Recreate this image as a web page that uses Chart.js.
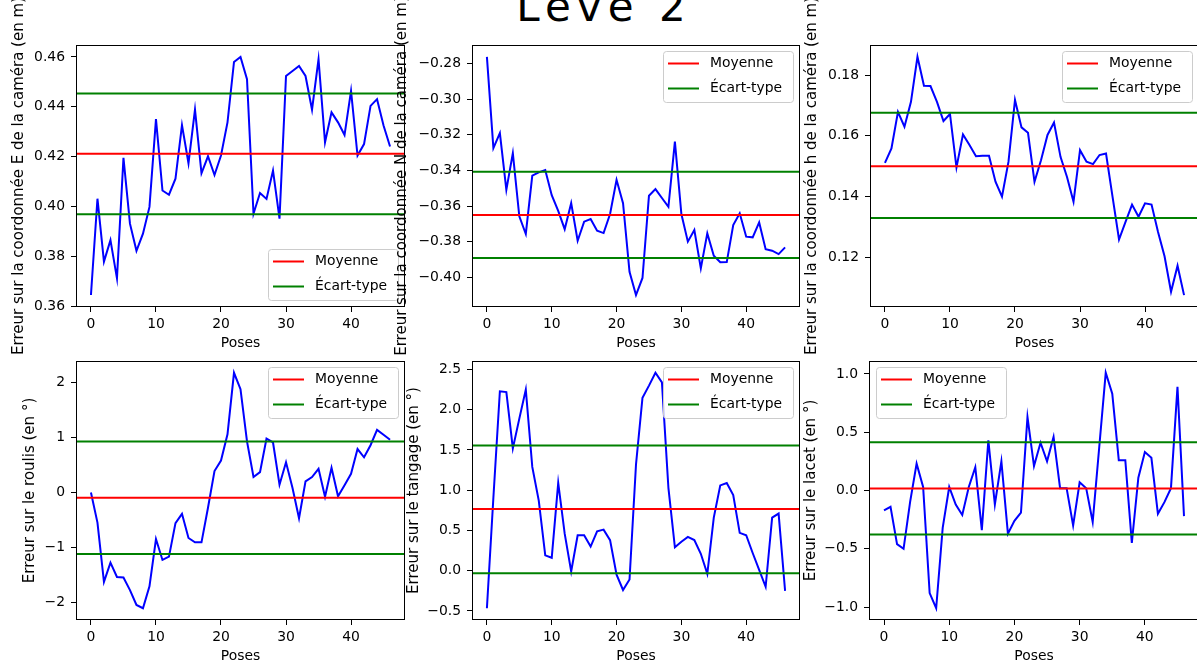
<!DOCTYPE html>
<html>
<head>
<meta charset="utf-8">
<script src="https://cdn.jsdelivr.net/npm/chart.js@4.4.1/dist/chart.umd.min.js"></script>
<style>
  html, body { margin: 0; padding: 0; background: #fff; overflow: hidden; }
  #figure { position: relative; width: 1197px; height: 668px; overflow: hidden; background: #fff; }
  #figure canvas { position: absolute; }
  #titre {
    position: absolute; left: 454px; top: -14px; width: 300px;
    text-align: center; font-family: 'DejaVu Sans', sans-serif;
    font-size: 42px; line-height: 42px; letter-spacing: 6px; color: #000;
  }
</style>
</head>
<body>
<div id="figure">
  <div id="titre">Levé 2</div>
  <canvas id="pE"></canvas>
  <canvas id="pN"></canvas>
  <canvas id="pH"></canvas>
  <canvas id="pRoulis"></canvas>
  <canvas id="pTangage"></canvas>
  <canvas id="pLacet"></canvas>
</div>
<script>
// Poses (abscisses) et graduations communes
const poses = [0, 1, 2, 3, 4, 5, 6, 7, 8, 9, 10, 11, 12, 13, 14, 15, 16, 17, 18, 19, 20, 21, 22, 23,
  24, 25, 26, 27, 28, 29, 30, 31, 32, 33, 34, 35, 36, 37, 38, 39, 40, 41, 42, 43, 44, 45, 46];
const ticksX = [0, 10, 20, 30, 40];
const limitesX = [-2.3, 48.3];

// Erreur sur E (m)
const erreurE = [0.3646, 0.4032, 0.378, 0.3866, 0.3713, 0.4196, 0.3932, 0.3823, 0.3892, 0.3999,
  0.4351, 0.4065, 0.4048, 0.4112, 0.4327, 0.4174, 0.4389, 0.4134, 0.4202, 0.4127,
  0.4205, 0.4338, 0.458, 0.46, 0.4511, 0.3972, 0.4055, 0.4031, 0.4145, 0.3952,
  0.4524, 0.4544, 0.4564, 0.4524, 0.4389, 0.4591, 0.4258, 0.4378, 0.4338, 0.4287,
  0.4464, 0.4205, 0.4251, 0.4404, 0.4431, 0.4325, 0.4241];
const moyenneE = 0.4212;
const ecartE = [0.4454, 0.3970];
const ticksE = [0.36, 0.38, 0.40, 0.42, 0.44, 0.46];
const limitesE = [0.3598, 0.4648];

// Erreur sur N (m)
const erreurN = [-0.2763, -0.3275, -0.3191, -0.3509, -0.3303, -0.3658, -0.3757, -0.343, -0.3411, -0.3398,
  -0.3539, -0.3627, -0.373, -0.3584, -0.3795, -0.3688, -0.3673, -0.3739, -0.3752, -0.3645,
  -0.3453, -0.3584, -0.3969, -0.41, -0.4004, -0.3542, -0.3505, -0.3555, -0.3604, -0.3238,
  -0.3645, -0.38, -0.3735, -0.395, -0.3754, -0.3879, -0.3916, -0.3915, -0.3707, -0.3641,
  -0.3772, -0.3776, -0.3692, -0.3842, -0.3851, -0.387, -0.3832];
const moyenneN = -0.3651;
const ecartN = [-0.3408, -0.3892];
const ticksN = [-0.40, -0.38, -0.36, -0.34, -0.32, -0.30, -0.28];
const limitesN = [-0.4167, -0.2696];

// Erreur sur h (m)
const erreurH = [0.1511, 0.1559, 0.1679, 0.163, 0.1712, 0.186, 0.1765, 0.1764, 0.1712, 0.1649,
  0.1672, 0.1496, 0.1605, 0.157, 0.1533, 0.1535, 0.1535, 0.1449, 0.14, 0.1515,
  0.1718, 0.1628, 0.161, 0.1449, 0.152, 0.1603, 0.1644, 0.1531, 0.1465, 0.1383,
  0.1553, 0.1515, 0.1507, 0.1537, 0.1542, 0.14, 0.1259, 0.1317, 0.1374, 0.1334,
  0.1378, 0.1374, 0.1284, 0.1204, 0.1087, 0.1173, 0.1076];
const moyenneH = 0.1500;
const ecartH = [0.1676, 0.1330];
const ticksH = [0.12, 0.14, 0.16, 0.18];
const limitesH = [0.1037, 0.1899];

// Erreur sur le roulis (°)
const erreurRoulis = [0, -0.55, -1.63, -1.28, -1.54, -1.55, -1.78, -2.05, -2.11, -1.71,
  -0.85, -1.23, -1.17, -0.56, -0.39, -0.83, -0.91, -0.91, -0.28, 0.39,
  0.58, 1.06, 2.18, 1.88, 0.93, 0.28, 0.37, 0.98, 0.91, 0.14,
  0.55, 0.08, -0.47, 0.20, 0.28, 0.43, -0.08, 0.45, -0.07, 0.13,
  0.34, 0.79, 0.64, 0.86, 1.14, 1.05, 0.96];
const moyenneRoulis = -0.096;
const ecartRoulis = [0.928, -1.12];
const ticksRoulis = [-2, -1, 0, 1, 2];
const limitesRoulis = [-2.3245, 2.3945];

// Erreur sur le tangage (°)
const erreurTangage = [-0.467, 0.91, 2.23, 2.22, 1.52, 1.89, 2.25, 1.29, 0.87, 0.19,
  0.16, 1.09, 0.46, -0.01, 0.44, 0.44, 0.30, 0.49, 0.51, 0.38,
  -0.05, -0.24, -0.11, 1.32, 2.15, 2.30, 2.46, 2.34, 1.03, 0.29,
  0.36, 0.42, 0.38, 0.21, -0.04, 0.66, 1.06, 1.09, 0.94, 0.47,
  0.44, 0.22, 0.01, -0.20, 0.66, 0.71, -0.25];
const moyenneTangage = 0.766;
const ecartTangage = [1.557, -0.033];
const ticksTangage = [-0.5, 0.0, 0.5, 1.0, 1.5, 2.0, 2.5];
const limitesTangage = [-0.613, 2.606];

// Erreur sur le lacet (°)
const erreurLacet = [-0.17, -0.14, -0.46, -0.50, -0.10, 0.23, 0.03, -0.88, -1.01, -0.32,
  0.03, -0.12, -0.21, 0.03, 0.20, -0.34, 0.43, -0.12, 0.25, -0.37,
  -0.26, -0.19, 0.63, 0.21, 0.41, 0.25, 0.46, 0.02, 0.02, -0.30,
  0.07, 0.02, -0.27, 0.37, 1.01, 0.83, 0.26, 0.26, -0.45, 0.11,
  0.33, 0.28, -0.20, -0.10, 0.02, 0.89, -0.22];
const moyenneLacet = 0.018;
const ecartLacet = [0.414, -0.377];
const ticksLacet = [-1.0, -0.5, 0.0, 0.5, 1.0];
const limitesLacet = [-1.111, 1.111];

const BLEU = '#0000ff', ROUGE = '#ff0000', VERT = '#008000';
const POLICE = 'DejaVu Sans';
const TAILLE = 13.9;
const TAILLE_TITRE_Y = 15;

Chart.defaults.font.family = POLICE;
Chart.defaults.font.size = TAILLE;
Chart.defaults.color = '#000';

// cadre, titre vertical et légende façon matplotlib
const habillage = {
  id: 'habillage',
  afterDraw(chart, args, opts) {
    const ctx = chart.ctx;
    const a = chart.chartArea;
    ctx.save();
    ctx.strokeStyle = '#000';
    ctx.lineWidth = 1;
    ctx.strokeRect(a.left + 0.5, a.top + 0.5, a.width - 1, a.height - 1);

    // légende
    const w = 130, h = 51, m = 7;
    const x0 = opts.coin.indexOf('droite') >= 0 ? a.right - m - w : a.left + m;
    const y0 = opts.coin.indexOf('haut') >= 0 ? a.top + m - 1 : a.bottom - m - h;
    ctx.beginPath();
    ctx.roundRect(x0 + 0.5, y0 + 0.5, w, h, 3);
    ctx.fillStyle = 'rgba(255,255,255,0.8)';
    ctx.fill();
    ctx.strokeStyle = '#cccccc';
    ctx.stroke();
    const items = [['Moyenne', ROUGE], ['Écart-type', VERT]];
    ctx.font = TAILLE + 'px "' + POLICE + '"';
    ctx.textBaseline = 'middle';
    ctx.textAlign = 'left';
    items.forEach(function(it, i) {
      const yy = y0 + 12.5 + i * 25;
      ctx.beginPath();
      ctx.strokeStyle = it[1];
      ctx.lineWidth = 2;
      ctx.moveTo(x0 + 5, yy);
      ctx.lineTo(x0 + 36, yy);
      ctx.stroke();
      ctx.fillStyle = '#000';
      ctx.fillText(it[0], x0 + 47, yy);
    });

    // titre de l'axe Y (non compressé, peut déborder du cadre)
    ctx.translate(opts.xTitre, (a.top + a.bottom) / 2);
    ctx.rotate(-Math.PI / 2);
    ctx.font = TAILLE_TITRE_Y + 'px "' + POLICE + '"';
    ctx.textAlign = 'center';
    ctx.textBaseline = 'alphabetic';
    ctx.fillStyle = '#000';
    ctx.fillText(opts.titreY, 0, 0);
    ctx.restore();
  }
};

function fmt(dec) {
  return function(v) { return v.toFixed(dec).replace('-', '\u2212'); };
}

function tracerPanneau(id, zone, axes, serie, moyenne, ecart, ticksY, limitesY, dec, titreY, xTitre, coin) {
  const canvas = document.getElementById(id);
  canvas.width = zone.w;
  canvas.height = zone.h;
  canvas.style.left = zone.x + 'px';
  canvas.style.top = zone.y + 'px';

  const ligneH = function(y, couleur) {
    return {
      data: [{x: limitesX[0], y: y}, {x: limitesX[1], y: y}],
      borderColor: couleur, borderWidth: 2, pointRadius: 0, tension: 0, fill: false
    };
  };

  new Chart(canvas, {
    type: 'line',
    data: {
      datasets: [
        ligneH(ecart[1], VERT),
        ligneH(ecart[0], VERT),
        ligneH(moyenne, ROUGE),
        {
          data: poses.map(function(p, i) { return {x: p, y: serie[i]}; }),
          borderColor: BLEU, borderWidth: 2, pointRadius: 0, tension: 0, fill: false
        }
      ]
    },
    options: {
      responsive: false,
      animation: false,
      events: [],
      layout: {
        padding: {
          left: 0,
          top: axes.top - zone.y,
          right: zone.x + zone.w - axes.right,
          bottom: zone.y + zone.h - axes.bottom - 45
        }
      },
      plugins: {
        legend: { display: false },
        tooltip: { enabled: false },
        habillage: { titreY: titreY, xTitre: xTitre - zone.x, coin: coin }
      },
      scales: {
        x: {
          type: 'linear',
          min: limitesX[0],
          max: limitesX[1],
          afterBuildTicks: function(s) { s.ticks = ticksX.map(function(v) { return {value: v}; }); },
          afterFit: function(s) { s.height = 45; s.paddingLeft = 0; s.paddingRight = 0; },
          grid: { display: true, drawOnChartArea: false, drawTicks: true, tickLength: 5, tickColor: '#000', tickWidth: 1 },
          border: { display: false },
          ticks: { padding: 4, autoSkip: false, maxRotation: 0, color: '#000', callback: fmt(0) },
          title: { display: true, text: 'Poses', padding: 0, color: '#000' }
        },
        y: {
          type: 'linear',
          min: limitesY[0],
          max: limitesY[1],
          afterBuildTicks: function(s) { s.ticks = ticksY.map(function(v) { return {value: v}; }); },
          afterFit: function(s) { s.width = axes.left - zone.x; s.paddingTop = 0; s.paddingBottom = 0; },
          grid: { display: true, drawOnChartArea: false, drawTicks: true, tickLength: 5, tickColor: '#000', tickWidth: 1 },
          border: { display: false },
          ticks: { padding: 6, autoSkip: false, color: '#000', callback: fmt(dec) },
          title: { display: false }
        }
      }
    },
    plugins: [habillage]
  });
}

// ligne du haut
tracerPanneau('pE', {x: 0, y: 0, w: 410, h: 362}, {left: 76, top: 45, right: 405, bottom: 307},
  erreurE, moyenneE, ecartE, ticksE, limitesE, 2,
  'Erreur sur la coordonnée E de la caméra (en m)', 23, 'bas-droite');
tracerPanneau('pN', {x: 390, y: 0, w: 415, h: 362}, {left: 472, top: 45, right: 800, bottom: 307},
  erreurN, moyenneN, ecartN, ticksN, limitesN, 2,
  'Erreur sur la coordonnée N de la caméra (en m)', 406, 'haut-droite');
tracerPanneau('pH', {x: 790, y: 0, w: 414, h: 362}, {left: 870, top: 45, right: 1199, bottom: 307},
  erreurH, moyenneH, ecartH, ticksH, limitesH, 2,
  'Erreur sur la coordonnée h de la caméra (en m)', 816, 'haut-droite');

// ligne du bas
tracerPanneau('pRoulis', {x: 0, y: 320, w: 410, h: 348}, {left: 76, top: 361, right: 405, bottom: 620},
  erreurRoulis, moyenneRoulis, ecartRoulis, ticksRoulis, limitesRoulis, 0,
  'Erreur sur le roulis (en °)', 33.5, 'haut-droite');
tracerPanneau('pTangage', {x: 390, y: 320, w: 415, h: 348}, {left: 472, top: 361, right: 800, bottom: 620},
  erreurTangage, moyenneTangage, ecartTangage, ticksTangage, limitesTangage, 1,
  'Erreur sur le tangage (en °)', 417.5, 'haut-droite');
tracerPanneau('pLacet', {x: 790, y: 320, w: 414, h: 348}, {left: 869, top: 361, right: 1199, bottom: 620},
  erreurLacet, moyenneLacet, ecartLacet, ticksLacet, limitesLacet, 1,
  'Erreur sur le lacet (en °)', 815, 'haut-gauche');
</script>
</body>
</html>
